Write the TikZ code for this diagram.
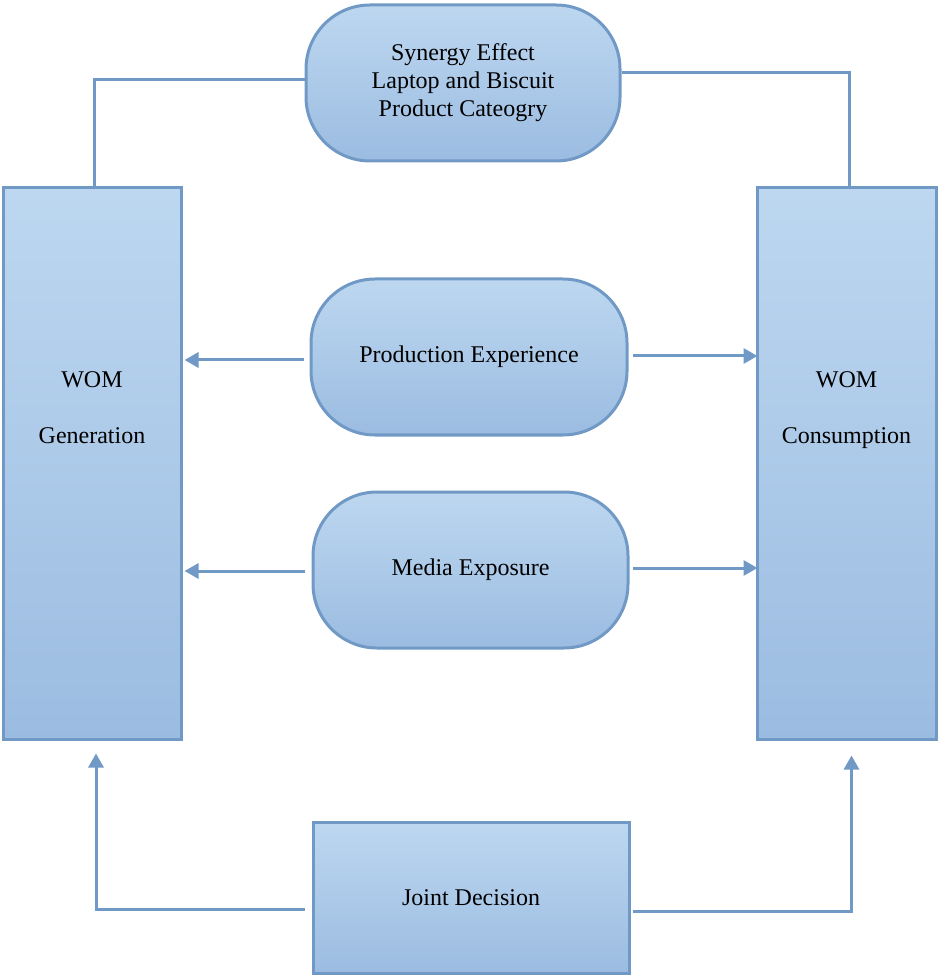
\documentclass[tikz,border=0pt]{standalone}
\usepackage{fontspec}
\setmainfont{Liberation Serif}
\usepackage{tikz}
\usetikzlibrary{arrows.meta}

\definecolor{boxtop}{HTML}{BDD7F0}
\definecolor{boxbot}{HTML}{9BBCE1}
\definecolor{boxline}{HTML}{7099C5}

\tikzset{
    box/.style={draw=boxline, line width=1.5pt, top color=boxtop, bottom color=boxbot,
        inner sep=0pt, align=center, font=\fontsize{12}{14}\selectfont},
    roundbox/.style={box, rounded corners=32pt},
    link/.style={draw=boxline, line width=1.5pt},
    arrow/.style={link, -{Triangle[length=7pt,width=7.5pt]}}
}

\begin{document}
\begin{tikzpicture}[x=0.5pt,y=-0.5pt]
            \useasboundingbox (0,0) rectangle (938,977);

            % Draw side boxes
            \node[box, minimum width=89pt, minimum height=275.5pt] (gen) at (92,463.5)
                {WOM\\[14pt]Generation\\[42pt]\mbox{}};
            \node[box, minimum width=89.5pt, minimum height=275.5pt] (cons) at (846.5,463.5)
                {WOM\\[14pt]Consumption\\[42pt]\mbox{}};

            % Draw middle boxes
            \node[roundbox, minimum width=157pt, minimum height=78pt] (syn) at (463,83)
                {Synergy Effect\\Laptop and Biscuit\\Product Cateogry};
            \node[roundbox, minimum width=158pt, minimum height=78pt] (prod) at (469,357)
                {Production Experience};
            \node[roundbox, minimum width=157.5pt, minimum height=78pt] (media) at (470.5,570)
                {Media Exposure};
            \node[box, minimum width=158pt, minimum height=75.5pt] (joint) at (471,897.5)
                {Joint Decision};

            % Draw links
            \draw[link] ([yshift=1.5pt]syn.west) -| ([xshift=1pt]gen.north);
            \draw[link] ([yshift=5pt]syn.east) -| ([xshift=1.5pt]cons.north);
            \draw[arrow, shorten <=3pt, shorten >=1pt] ([yshift=-1.5pt]prod.west) -- ([yshift=-1.5pt]prod.west -| gen.east);
            \draw[arrow, shorten <=2pt, shorten >=-1pt] ([yshift=0.5pt]prod.east) -- ([yshift=0.5pt]prod.east -| cons.west);
            \draw[arrow, shorten <=3.5pt, shorten >=1pt] ([yshift=-0.5pt]media.west) -- ([yshift=-0.5pt]media.west -| gen.east);
            \draw[arrow, shorten <=1.5pt, shorten >=-1pt] ([yshift=1pt]media.east) -- ([yshift=1pt]media.east -| cons.west);
            \draw[arrow, shorten <=3.5pt, shorten >=6.5pt] ([yshift=-6pt]joint.west) -| ([xshift=2pt]gen.south);
            \draw[arrow, shorten <=1pt, shorten >=7.5pt] ([yshift=-7pt]joint.east) -| ([xshift=2.5pt]cons.south);
        \end{tikzpicture}
\end{document}
